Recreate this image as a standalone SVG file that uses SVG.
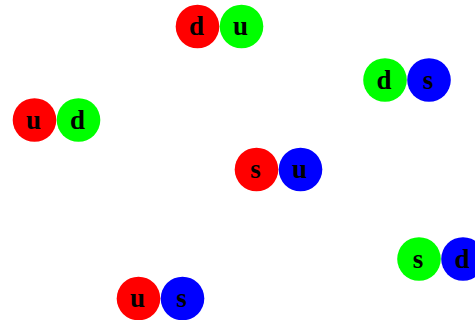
<svg xmlns="http://www.w3.org/2000/svg" width="475" height="320" viewBox="0 0 475 320">
<style>
.r{fill:#ff0000}.g{fill:#00ff00}.b{fill:#0000ff}
text{font-family:"Liberation Serif","Times New Roman",serif;font-weight:bold;font-size:27px;text-anchor:middle;fill:#000}
</style>
<rect width="475" height="320" fill="#fff"/>
<g id="du"><circle class="r" cx="197.5" cy="26.5" r="21.8"/><text x="196.5" y="35">d</text><circle class="g" cx="241.5" cy="26.5" r="21.8"/><text x="240.5" y="35">u</text></g>
<g id="ds"><circle class="g" cx="385" cy="80" r="21.8"/><text x="384" y="88.5">d</text><circle class="b" cx="429" cy="80" r="21.8"/><text x="428" y="88.5">s</text></g>
<g id="ud"><circle class="r" cx="34.5" cy="120" r="21.8"/><text x="33.5" y="128.5">u</text><circle class="g" cx="78.5" cy="120" r="21.8"/><text x="77.5" y="128.5">d</text></g>
<g id="su"><circle class="r" cx="256.5" cy="169.5" r="21.8"/><text x="255.5" y="178">s</text><circle class="b" cx="300.5" cy="169.5" r="21.8"/><text x="299.5" y="178">u</text></g>
<g id="sd"><circle class="g" cx="419" cy="259" r="21.8"/><text x="418" y="267.5">s</text><circle class="b" cx="463" cy="259" r="21.8"/><text x="462" y="267.5">d</text></g>
<g id="us"><circle class="r" cx="138.5" cy="298.5" r="21.8"/><text x="137.5" y="307">u</text><circle class="b" cx="182.5" cy="298.5" r="21.8"/><text x="181.5" y="307">s</text></g>
<g id="connectors"></g>
</svg>
